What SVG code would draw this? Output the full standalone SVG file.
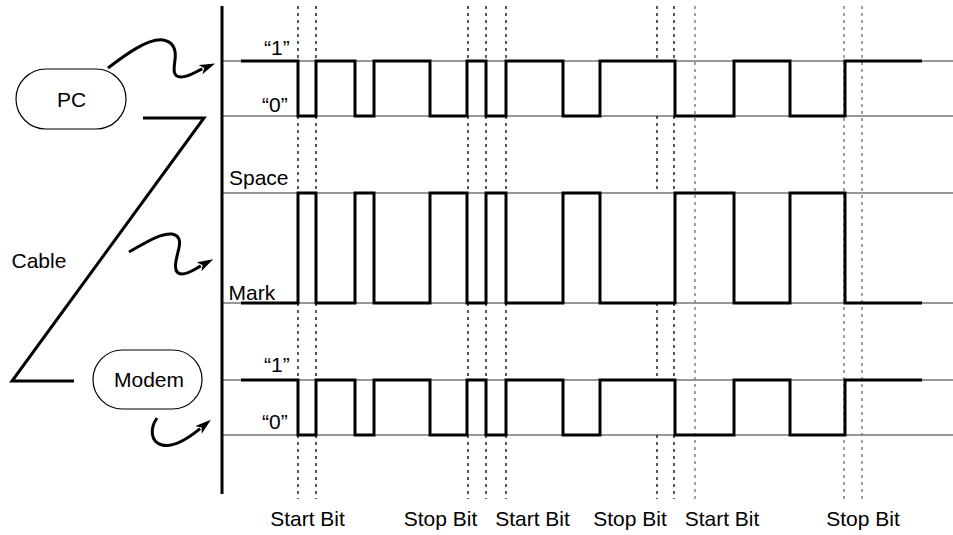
<svg xmlns="http://www.w3.org/2000/svg" width="953" height="535" viewBox="0 0 953 535">
<style>
.ref{stroke:#333;stroke-width:1.2;fill:none}
.dot{stroke:#000;stroke-width:1.3;stroke-dasharray:3 4;fill:none}
.dotg{stroke:#777;stroke-width:1.4;stroke-dasharray:3 4;fill:none}
.sig{fill:none;stroke:#000;stroke-width:3}
.con{fill:none;stroke:#000;stroke-width:3}
.pill{fill:#fff;stroke:#000;stroke-width:1.2}
.lbl{font-family:"Liberation Sans",Arial,sans-serif;font-size:21px;fill:#000}
.mid{text-anchor:middle}
</style>
<defs>
<marker id="ah" viewBox="0 0 16 10" refX="2" refY="5" markerWidth="16" markerHeight="10" markerUnits="userSpaceOnUse" orient="auto">
<path d="M0,0 L16,5 L0,10 L4,5 z" fill="#000"/>
</marker>
</defs>
<rect width="953" height="535" fill="#fff"/>
<g id="reference-lines">
<path class="ref" d="M222,61 H953 M222,116 H953 M222,193 H953 M222,303 H953 M222,380 H953 M222,435 H953"/>
</g>
<g id="bit-markers">
<path class="dot" d="M298,6 V61 M298,116 V193 M298,303 V380 M298,435 V499
M316,6 V61 M316,116 V193 M316,303 V380 M316,435 V499
M468,6 V61 M468,116 V193 M468,303 V380 M468,435 V499
M486,6 V61 M486,116 V193 M486,303 V380 M486,435 V499
M506,6 V61 M506,116 V193 M506,303 V380 M506,435 V499
M657,6 V61 M657,116 V193 M657,303 V380 M657,435 V499
M674,6 V61 M674,116 V193 M674,303 V380 M674,435 V499"/>
<path class="dotg" d="M695,6 V499 M844,6 V499 M862,6 V499"/>
</g>
<g id="axis">
<line x1="222" y1="6" x2="222" y2="494" stroke="#000" stroke-width="3"/>
</g>
<g id="signal-pc">
<path class="sig" d="M241,61 H298 V116 H316 V61 H355 V116 H374 V61 H430 V116 H467 V61 H486 V116 H506 V61 H563 V116 H600 V61 H675 V116 H734 V61 H790 V116 H845 V61 H922"/>
</g>
<g id="signal-cable">
<path class="sig" d="M241,303 H298 V193 H316 V303 H355 V193 H374 V303 H430 V193 H467 V303 H486 V193 H506 V303 H563 V193 H600 V303 H675 V193 H734 V303 H790 V193 H845 V303 H922"/>
</g>
<g id="signal-modem">
<path class="sig" d="M241,380 H298 V435 H316 V380 H355 V435 H374 V380 H430 V435 H467 V380 H486 V435 H506 V380 H563 V435 H600 V380 H675 V435 H734 V380 H790 V435 H845 V380 H922"/>
</g>
<g id="level-labels">
<text class="lbl" x="264" y="55">“1”</text>
<text class="lbl" x="262" y="112">“0”</text>
<text class="lbl" x="229" y="185">Space</text>
<text class="lbl" x="228.5" y="300">Mark</text>
<text class="lbl" x="264" y="372">“1”</text>
<text class="lbl" x="262" y="429">“0”</text>
</g>
<g id="bit-labels">
<text class="lbl mid" x="307.5" y="526">Start Bit</text>
<text class="lbl mid" x="440.5" y="526">Stop Bit</text>
<text class="lbl mid" x="532.5" y="526">Start Bit</text>
<text class="lbl mid" x="630" y="526">Stop Bit</text>
<text class="lbl mid" x="722" y="526">Start Bit</text>
<text class="lbl mid" x="863" y="526">Stop Bit</text>
</g>
<g id="pc">
<rect class="pill" x="16" y="69" width="110" height="60" rx="30"/>
<text class="lbl mid" x="71.5" y="107">PC</text>
</g>
<g id="modem">
<rect class="pill" x="93" y="350" width="109" height="59" rx="29.5"/>
<text class="lbl mid" x="149" y="387">Modem</text>
</g>
<g id="cable-label">
<text class="lbl" x="11.5" y="268">Cable</text>
</g>
<g id="connectors">
<polyline class="con" points="143,118 204,118 12,381 74,381"/>
<path class="con" marker-end="url(#ah)" d="M108,68 C125,55 148,38 163,40 C175,42 176,52 175,60 C174,68 172,77 181,77 C189,77 195,72 202.3,68.9"/>
<path class="con" marker-end="url(#ah)" d="M129,252 C145,243 160,233 172,234 C182,236 180,245 178,252 C176,260 172,274 182,274 C189,274 194,269.5 200.8,265.9"/>
<path class="con" marker-end="url(#ah)" d="M157,418 C150,428 150,442 162,445 C174,448 190,437 200.1,428.7"/>
</g>
</svg>
